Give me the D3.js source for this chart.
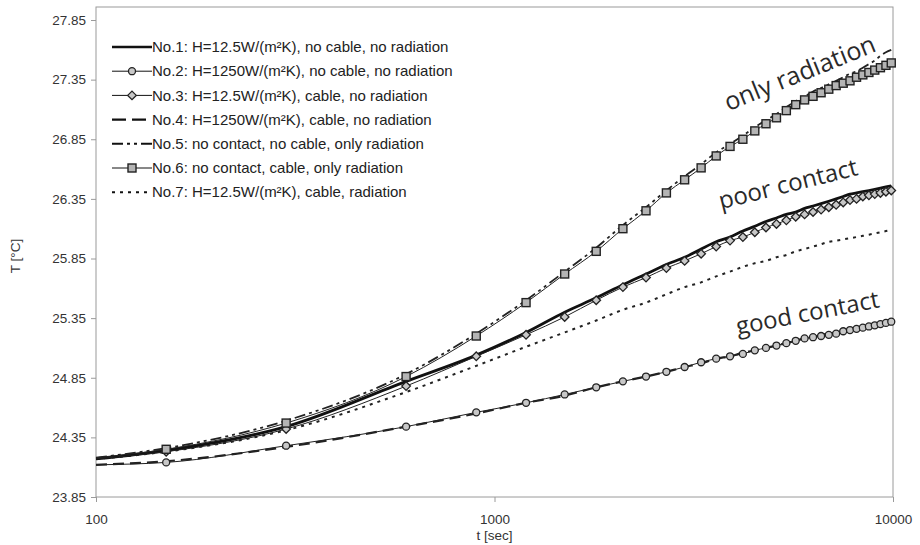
<!DOCTYPE html>
<html><head><meta charset="utf-8">
<script src="https://cdn.jsdelivr.net/npm/d3@7/dist/d3.min.js"></script>
<style>
html,body{margin:0;padding:0;background:#fff;}
svg{display:block;}
</style></head>
<body>
<svg id="chart" width="920" height="545"></svg>
<script>
const times = [100,150,300,600,900,1200,1500,1800,2100,2400,2700,3000,3300,3600,3900,4200,4500,4800,5100,5400,5700,6000,6300,6600,6900,7200,7500,7800,8100,8400,8700,9000,9300,9600,9900];
const no1 = [24.17,24.24,24.44,24.82,25.04,25.23,25.40,25.52,25.63,25.72,25.80,25.86,25.93,25.99,26.03,26.08,26.12,26.16,26.19,26.22,26.24,26.27,26.29,26.31,26.33,26.35,26.37,26.39,26.40,26.41,26.42,26.43,26.44,26.45,26.46];
const no2 = [24.12,24.14,24.28,24.44,24.56,24.64,24.71,24.77,24.82,24.86,24.90,24.94,24.98,25.01,25.03,25.05,25.08,25.10,25.12,25.14,25.16,25.18,25.19,25.20,25.21,25.22,25.24,25.25,25.26,25.27,25.28,25.29,25.30,25.31,25.32];
const no3 = [24.17,24.23,24.42,24.78,25.03,25.21,25.36,25.50,25.61,25.69,25.77,25.83,25.89,25.95,26.00,26.03,26.07,26.11,26.14,26.17,26.20,26.22,26.24,26.26,26.28,26.30,26.32,26.34,26.35,26.37,26.38,26.39,26.40,26.41,26.42];
const no4 = [24.12,24.15,24.27,24.44,24.55,24.64,24.70,24.77,24.82,24.86,24.90,24.94,24.97,25.01,25.03,25.06,25.08,25.10,25.12,25.14,25.16,25.18,25.19,25.21,25.22,25.23,25.24,25.25,25.26,25.27,25.28,25.29,25.30,25.31,25.32];
const no5 = [24.18,24.26,24.49,24.88,25.22,25.50,25.74,25.94,26.13,26.28,26.42,26.54,26.64,26.74,26.81,26.88,26.95,27.01,27.06,27.12,27.17,27.21,27.25,27.28,27.31,27.34,27.37,27.40,27.42,27.45,27.48,27.51,27.55,27.58,27.60];
const no6 = [24.18,24.25,24.47,24.86,25.20,25.48,25.72,25.91,26.10,26.25,26.40,26.51,26.61,26.71,26.79,26.85,26.92,26.98,27.03,27.09,27.14,27.18,27.21,27.24,27.27,27.30,27.32,27.34,27.37,27.39,27.41,27.43,27.45,27.47,27.49];
const no7 = [24.17,24.23,24.41,24.73,24.95,25.11,25.23,25.33,25.42,25.48,25.55,25.61,25.65,25.70,25.74,25.78,25.81,25.83,25.86,25.88,25.91,25.93,25.95,25.97,25.99,26.00,26.01,26.02,26.03,26.04,26.05,26.06,26.07,26.08,26.09];

const legendLabels = [
  "No.1: H=12.5W/(m²K), no cable, no radiation",
  "No.2: H=1250W/(m²K), no cable, no radiation",
  "No.3: H=12.5W/(m²K), cable, no radiation",
  "No.4: H=1250W/(m²K), cable, no radiation",
  "No.5: no contact, no cable, only radiation",
  "No.6: no contact, cable, only radiation",
  "No.7: H=12.5W/(m²K), cable, radiation"
];
const yTicks = [23.85,24.35,24.85,25.35,25.85,26.35,26.85,27.35,27.85];
const xTicks = [100,1000,10000];
const annotations = ["only radiation","poor contact","good contact"];

const svg = d3.select("#chart");
const L = 96, R = 893, T = 7, B = 497;
const x = d3.scaleLog().domain([100,10000]).range([L,R]);
const y = d3.scaleLinear().domain([23.85,27.85]).range([B,20]);

const FONT = "'Liberation Sans', Arial, Helvetica, sans-serif";

// frame
svg.append("rect").attr("x",L).attr("y",T).attr("width",R-L).attr("height",B-T)
  .attr("fill","none").attr("stroke","#9a9a9a").attr("stroke-width",1);

// y axis
const gy = svg.append("g").attr("transform",`translate(${L},0)`)
  .call(d3.axisLeft(y).tickValues(yTicks).tickSize(5).tickPadding(5).tickFormat(d3.format(".2f")));
gy.select(".domain").remove();
gy.selectAll("line").attr("stroke","#9a9a9a");
gy.selectAll("text").attr("font-family",FONT).attr("font-size",13.5).attr("fill","#333");

// x axis
const gx = svg.append("g").attr("transform",`translate(0,${B})`)
  .call(d3.axisBottom(x).tickValues(xTicks).tickSize(5).tickPadding(12).tickFormat(d3.format("d")));
gx.select(".domain").remove();
gx.selectAll("line").attr("stroke","#9a9a9a");
gx.selectAll("text").attr("font-family",FONT).attr("font-size",13.5).attr("fill","#333");

// axis titles
svg.append("text").attr("x",(L+R)/2).attr("y",540).attr("text-anchor","middle")
  .attr("font-family",FONT).attr("font-size",13.5).attr("fill","#333").text("t [sec]");
svg.append("text").attr("transform",`translate(20,${(T+B)/2 + 4}) rotate(-90)`).attr("text-anchor","middle")
  .attr("font-family",FONT).attr("font-size",13.5).attr("fill","#333").text("T [°C]");

const series = [
  {vals:no7, width:2, dash:"3,5", marker:null, color:"#222"},
  {vals:no4, width:2.2, dash:"11,6", marker:null, color:"#222"},
  {vals:no2, width:1, dash:null, marker:"circle", color:"#222"},
  {vals:no1, width:2.8, dash:null, marker:null, color:"#111"},
  {vals:no3, width:1, dash:null, marker:"diamond", color:"#222"},
  {vals:no5, width:1.8, dash:"11,4,3,4,3,4", marker:null, color:"#222"},
  {vals:no6, width:1, dash:null, marker:"square", color:"#222"}
];

const line = d3.line().x(d=>x(d[0])).y(d=>y(d[1])).curve(d3.curveMonotoneX);

function drawMarker(g, type, cx, cy){
  if(type==="circle"){
    g.append("circle").attr("cx",cx).attr("cy",cy).attr("r",3.5)
      .attr("fill","#c8c8c8").attr("stroke","#222").attr("stroke-width",1.3);
  } else if(type==="diamond"){
    const s=4.3;
    g.append("path").attr("d",`M${cx},${cy-s}L${cx+s},${cy}L${cx},${cy+s}L${cx-s},${cy}Z`)
      .attr("fill","#c8c8c8").attr("stroke","#222").attr("stroke-width",1.3);
  } else if(type==="square"){
    const s=4;
    g.append("rect").attr("x",cx-s).attr("y",cy-s).attr("width",2*s).attr("height",2*s)
      .attr("fill","#b4b4b4").attr("stroke","#222").attr("stroke-width",1.4);
  }
}

const plot = svg.append("g");
series.forEach(s=>{
  const pts = times.map((t,i)=>[t,s.vals[i]]);
  const p = plot.append("path").attr("d",line(pts)).attr("fill","none")
    .attr("stroke",s.color).attr("stroke-width",s.width);
  if(s.dash) p.attr("stroke-dasharray",s.dash);
  if(s.marker){
    const mg = plot.append("g");
    pts.slice(1).forEach(d=>drawMarker(mg,s.marker,x(d[0]),y(d[1])));
  }
});

// legend
const legendStyles = [
  {dash:null,width:2.4,marker:null},
  {dash:null,width:1,marker:"circle"},
  {dash:null,width:1,marker:"diamond"},
  {dash:"14,6",width:2.4,marker:null},
  {dash:"11,4,3,4,3,4",width:2,marker:null},
  {dash:null,width:1,marker:"square"},
  {dash:"3,5",width:2,marker:null}
];
const lg = svg.append("g");
legendStyles.forEach((o,i)=>{
  const ly = 47 + i*24.2;
  const ln = lg.append("line").attr("x1",112).attr("x2",152).attr("y1",ly).attr("y2",ly)
    .attr("stroke","#111").attr("stroke-width",o.width);
  if(o.dash) ln.attr("stroke-dasharray",o.dash);
  if(o.marker) drawMarker(lg,o.marker,132,ly);
  lg.append("text").attr("x",152).attr("y",ly).attr("dy","0.35em")
    .attr("font-family",FONT).attr("font-size",15).attr("fill","#222").text(legendLabels[i]);
});

// annotations
const annPos = [
  {x:803,y:81,rot:-22,size:25},
  {x:790,y:192,rot:-14,size:24},
  {x:809,y:321,rot:-11,size:24}
];
annotations.forEach((a,i)=>{
  const p = annPos[i];
  svg.append("text").attr("transform",`translate(${p.x},${p.y}) rotate(${p.rot})`)
    .attr("text-anchor","middle").attr("font-family","'Open Sans', 'Noto Sans', sans-serif")
    .attr("font-size",p.size).attr("fill","#2a2a2a").text(a);
});
</script>
</body></html>
